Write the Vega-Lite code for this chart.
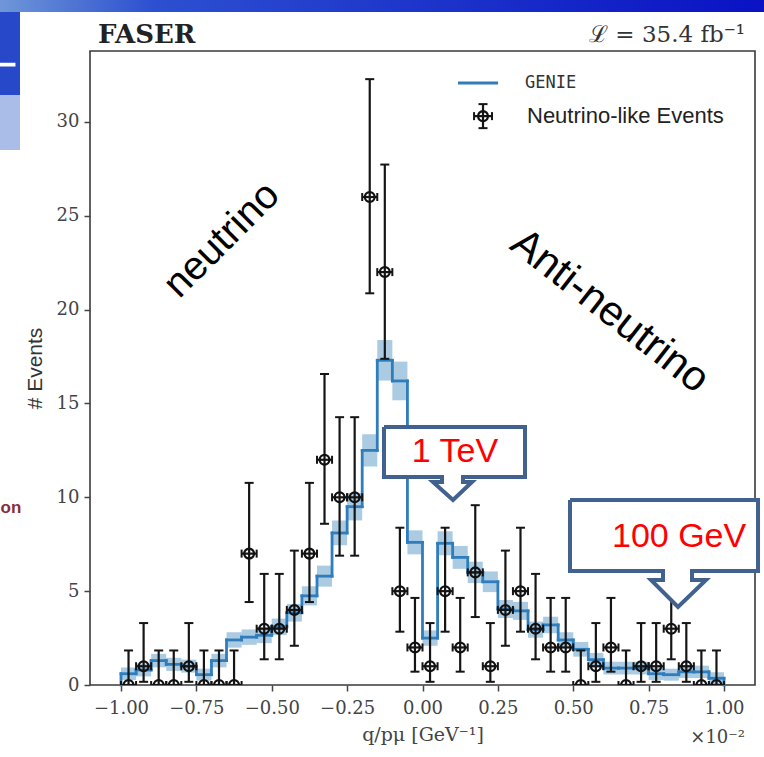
{
  "$schema": "https://vega.github.io/schema/vega-lite/v6.json",
  "width": 665,
  "height": 634,
  "autosize": {"type": "none"},
  "padding": {"left": 90, "top": 51, "right": 9, "bottom": 72},
  "background": "white",
  "config": {
    "view": {"stroke": "#3a3a3a", "strokeWidth": 1.6},
    "axis": {"grid": false, "domain": false, "tickColor": "#444", "tickWidth": 1.5, "tickSize": 6}
  },
  "datasets": {
    "bins": [
      {"c": -0.975, "x0": -1.0, "x1": -0.95, "n": 0, "elo": 0, "ehi": 1.84, "g": 0.6, "glo": 0.27, "ghi": 0.93},
      {"c": -0.925, "x0": -0.95, "x1": -0.9, "n": 1, "elo": 0.17, "ehi": 3.3, "g": 0.8, "glo": 0.46, "ghi": 1.14},
      {"c": -0.875, "x0": -0.9, "x1": -0.85, "n": 0, "elo": 0, "ehi": 1.84, "g": 1.3, "glo": 0.94, "ghi": 1.66},
      {"c": -0.825, "x0": -0.85, "x1": -0.8, "n": 0, "elo": 0, "ehi": 1.84, "g": 1.1, "glo": 0.75, "ghi": 1.45},
      {"c": -0.775, "x0": -0.8, "x1": -0.75, "n": 1, "elo": 0.17, "ehi": 3.3, "g": 1.0, "glo": 0.66, "ghi": 1.35},
      {"c": -0.725, "x0": -0.75, "x1": -0.7, "n": 0, "elo": 0, "ehi": 1.84, "g": 0.55, "glo": 0.23, "ghi": 0.87},
      {"c": -0.675, "x0": -0.7, "x1": -0.65, "n": 0, "elo": 0, "ehi": 1.84, "g": 1.3, "glo": 0.94, "ghi": 1.66},
      {"c": -0.625, "x0": -0.65, "x1": -0.6, "n": 0, "elo": 0, "ehi": 1.84, "g": 2.4, "glo": 1.99, "ghi": 2.81},
      {"c": -0.575, "x0": -0.6, "x1": -0.55, "n": 7, "elo": 4.42, "ehi": 10.77, "g": 2.55, "glo": 2.14, "ghi": 2.96},
      {"c": -0.525, "x0": -0.55, "x1": -0.5, "n": 3, "elo": 1.37, "ehi": 5.92, "g": 2.65, "glo": 2.23, "ghi": 3.07},
      {"c": -0.475, "x0": -0.5, "x1": -0.45, "n": 3, "elo": 1.37, "ehi": 5.92, "g": 3.1, "glo": 2.66, "ghi": 3.54},
      {"c": -0.425, "x0": -0.45, "x1": -0.4, "n": 4, "elo": 2.09, "ehi": 7.16, "g": 3.85, "glo": 3.38, "ghi": 4.32},
      {"c": -0.375, "x0": -0.4, "x1": -0.35, "n": 7, "elo": 4.42, "ehi": 10.77, "g": 4.75, "glo": 4.24, "ghi": 5.26},
      {"c": -0.325, "x0": -0.35, "x1": -0.3, "n": 12, "elo": 8.59, "ehi": 16.57, "g": 5.8, "glo": 5.24, "ghi": 6.36},
      {"c": -0.275, "x0": -0.3, "x1": -0.25, "n": 10, "elo": 6.89, "ehi": 14.27, "g": 8.1, "glo": 7.44, "ghi": 8.76},
      {"c": -0.225, "x0": -0.25, "x1": -0.2, "n": 10, "elo": 6.89, "ehi": 14.27, "g": 9.5, "glo": 8.77, "ghi": 10.23},
      {"c": -0.175, "x0": -0.2, "x1": -0.15, "n": 26, "elo": 20.87, "ehi": 32.28, "g": 12.5, "glo": 11.64, "ghi": 13.36},
      {"c": -0.125, "x0": -0.15, "x1": -0.1, "n": 22, "elo": 17.38, "ehi": 27.73, "g": 17.3, "glo": 16.22, "ghi": 18.38},
      {"c": -0.075, "x0": -0.1, "x1": -0.05, "n": 5, "elo": 2.84, "ehi": 8.38, "g": 16.2, "glo": 15.17, "ghi": 17.23},
      {"c": -0.025, "x0": -0.05, "x1": 0.0, "n": 2, "elo": 0.71, "ehi": 4.64, "g": 7.6, "glo": 6.96, "ghi": 8.24},
      {"c": 0.025, "x0": 0.0, "x1": 0.05, "n": 1, "elo": 0.17, "ehi": 3.3, "g": 2.5, "glo": 2.09, "ghi": 2.91},
      {"c": 0.075, "x0": 0.05, "x1": 0.1, "n": 5, "elo": 2.84, "ehi": 8.38, "g": 7.55, "glo": 6.91, "ghi": 8.19},
      {"c": 0.125, "x0": 0.1, "x1": 0.15, "n": 2, "elo": 0.71, "ehi": 4.64, "g": 6.8, "glo": 6.19, "ghi": 7.41},
      {"c": 0.175, "x0": 0.15, "x1": 0.2, "n": 6, "elo": 3.62, "ehi": 9.58, "g": 6.0, "glo": 5.43, "ghi": 6.57},
      {"c": 0.225, "x0": 0.2, "x1": 0.25, "n": 1, "elo": 0.17, "ehi": 3.3, "g": 5.5, "glo": 4.95, "ghi": 6.05},
      {"c": 0.275, "x0": 0.25, "x1": 0.3, "n": 4, "elo": 2.09, "ehi": 7.16, "g": 4.05, "glo": 3.57, "ghi": 4.53},
      {"c": 0.325, "x0": 0.3, "x1": 0.35, "n": 5, "elo": 2.84, "ehi": 8.38, "g": 3.95, "glo": 3.47, "ghi": 4.43},
      {"c": 0.375, "x0": 0.35, "x1": 0.4, "n": 3, "elo": 1.37, "ehi": 5.92, "g": 2.95, "glo": 2.52, "ghi": 3.38},
      {"c": 0.425, "x0": 0.4, "x1": 0.45, "n": 2, "elo": 0.71, "ehi": 4.64, "g": 3.2, "glo": 2.76, "ghi": 3.64},
      {"c": 0.475, "x0": 0.45, "x1": 0.5, "n": 2, "elo": 0.71, "ehi": 4.64, "g": 2.4, "glo": 1.99, "ghi": 2.81},
      {"c": 0.525, "x0": 0.5, "x1": 0.55, "n": 0, "elo": 0, "ehi": 1.84, "g": 1.9, "glo": 1.51, "ghi": 2.29},
      {"c": 0.575, "x0": 0.55, "x1": 0.6, "n": 1, "elo": 0.17, "ehi": 3.3, "g": 1.35, "glo": 0.99, "ghi": 1.71},
      {"c": 0.625, "x0": 0.6, "x1": 0.65, "n": 2, "elo": 0.71, "ehi": 4.64, "g": 0.9, "glo": 0.56, "ghi": 1.24},
      {"c": 0.675, "x0": 0.65, "x1": 0.7, "n": 0, "elo": 0, "ehi": 1.84, "g": 0.9, "glo": 0.56, "ghi": 1.24},
      {"c": 0.725, "x0": 0.7, "x1": 0.75, "n": 1, "elo": 0.17, "ehi": 3.3, "g": 0.9, "glo": 0.56, "ghi": 1.24},
      {"c": 0.775, "x0": 0.75, "x1": 0.8, "n": 1, "elo": 0.17, "ehi": 3.3, "g": 0.6, "glo": 0.27, "ghi": 0.93},
      {"c": 0.825, "x0": 0.8, "x1": 0.85, "n": 3, "elo": 1.37, "ehi": 5.92, "g": 0.55, "glo": 0.23, "ghi": 0.87},
      {"c": 0.875, "x0": 0.85, "x1": 0.9, "n": 1, "elo": 0.17, "ehi": 3.3, "g": 0.7, "glo": 0.37, "ghi": 1.03},
      {"c": 0.925, "x0": 0.9, "x1": 0.95, "n": 0, "elo": 0, "ehi": 1.84, "g": 0.7, "glo": 0.37, "ghi": 1.03},
      {"c": 0.975, "x0": 0.95, "x1": 1.0, "n": 0, "elo": 0, "ehi": 1.84, "g": 0.36, "glo": 0.04, "ghi": 0.68}
    ],
    "legmark": [
      {"c": 0.2007, "x0": 0.171, "x1": 0.2305, "n": 30.31, "elo": 29.67, "ehi": 30.95}
    ],
    "legline": [
      {"x0": 0.1177, "x1": 0.2507, "y": 32.07}
    ],
    "callouts": [
      {"shape": "tev", "i": 0, "x": -0.1277, "y": 13.745},
      {"shape": "tev", "i": 1, "x": 0.34, "y": 13.745},
      {"shape": "tev", "i": 2, "x": 0.34, "y": 11.082},
      {"shape": "tev", "i": 3, "x": 0.1343, "y": 11.082},
      {"shape": "tev", "i": 4, "x": 0.1343, "y": 10.815},
      {"shape": "tev", "i": 5, "x": 0.1642, "y": 10.815},
      {"shape": "tev", "i": 6, "x": 0.1012, "y": 9.856},
      {"shape": "tev", "i": 7, "x": 0.0348, "y": 10.815},
      {"shape": "tev", "i": 8, "x": 0.0647, "y": 10.815},
      {"shape": "tev", "i": 9, "x": 0.0647, "y": 11.082},
      {"shape": "tev", "i": 10, "x": -0.1277, "y": 11.082},
      {"shape": "tev", "i": 11, "x": -0.1277, "y": 13.745},
      {"shape": "gev", "i": 0, "x": 0.4892, "y": 9.856},
      {"shape": "gev", "i": 1, "x": 1.1128, "y": 9.856},
      {"shape": "gev", "i": 2, "x": 1.1128, "y": 6.074},
      {"shape": "gev", "i": 3, "x": 0.8939, "y": 6.074},
      {"shape": "gev", "i": 4, "x": 0.8939, "y": 5.594},
      {"shape": "gev", "i": 5, "x": 0.9403, "y": 5.594},
      {"shape": "gev", "i": 6, "x": 0.8474, "y": 4.156},
      {"shape": "gev", "i": 7, "x": 0.7579, "y": 5.594},
      {"shape": "gev", "i": 8, "x": 0.7977, "y": 5.594},
      {"shape": "gev", "i": 9, "x": 0.7977, "y": 6.074},
      {"shape": "gev", "i": 10, "x": 0.4892, "y": 6.074},
      {"shape": "gev", "i": 11, "x": 0.4892, "y": 9.856}
    ],
    "deco": [
      {"id": "leftblue", "x0": -1.4013, "x1": -1.335, "y0": 31.43, "y1": 35.86},
      {"id": "leftlight", "x0": -1.4013, "x1": -1.335, "y0": 28.5, "y1": 31.43},
      {"id": "leftwhite", "x0": -1.4013, "x1": -1.35, "y0": 32.95, "y1": 33.15}
    ],
    "band": [
      {"x0": -1.4013, "x1": 1.1327, "y0": 35.86, "y1": 36.6}
    ],
    "notes": [
      {"id": "faser", "text": "FASER", "x": -1.076, "y": 34.63},
      {"id": "lumi", "text": "ℒ = 35.4 fb⁻¹", "x": 1.0697, "y": 34.63},
      {"id": "neutrino", "text": "neutrino", "x": -0.665, "y": 23.71},
      {"id": "anti", "text": "Anti-neutrino", "x": 0.6219, "y": 19.93},
      {"id": "tev", "text": "1 TeV", "x": 0.1078, "y": 12.41},
      {"id": "gev", "text": "100 GeV", "x": 0.851, "y": 7.885},
      {"id": "genie", "text": "GENIE", "x": 0.34, "y": 32.07},
      {"id": "events", "text": "Neutrino-like Events", "x": 0.3466, "y": 30.31},
      {"id": "x10", "text": "×10⁻²", "x": 1.0697, "y": -2.824},
      {"id": "on", "text": "on", "x": -1.3995, "y": 9.43}
    ]
  },
  "layer": [
    {
      "data": {"name": "band"},
      "mark": {"type": "rect", "clip": false, "color": {"gradient": "linear", "x1": 0, "x2": 1, "y1": 0, "y2": 0, "stops": [{"offset": 0, "color": "#6f97d8"}, {"offset": 0.2, "color": "#2c50d0"}, {"offset": 1, "color": "#0a12c4"}]}},
      "encoding": {
        "x": {"field": "x0", "type": "quantitative", "scale": {"domain": [-1.1028, 1.1028], "nice": false, "zero": false},
          "axis": {"values": [-1, -0.75, -0.5, -0.25, 0, 0.25, 0.5, 0.75, 1], "format": ".2f", "title": "q/pμ [GeV⁻¹]",
            "labelFont": "DejaVu Serif", "labelFontSize": 18, "labelColor": "#444", "labelPadding": 8, "labelFlush": false,
            "titleFont": "DejaVu Serif", "titleFontSize": 19, "titleFontWeight": "normal", "titleColor": "#444", "titlePadding": 8}},
        "x2": {"field": "x1"},
        "y": {"field": "y0", "type": "quantitative", "scale": {"domain": [0, 33.78], "nice": false, "zero": false},
          "axis": {"values": [0, 5, 10, 15, 20, 25, 30], "title": "# Events",
            "labelFont": "DejaVu Serif", "labelFontSize": 18, "labelColor": "#444", "labelPadding": 5,
            "titleFont": "Liberation Sans", "titleFontSize": 21, "titleFontWeight": "normal", "titleColor": "#333", "titlePadding": 11}},
        "y2": {"field": "y1"}
      }
    },
    {
      "data": {"name": "deco"},
      "mark": {"type": "rect", "clip": false},
      "encoding": {
        "x": {"field": "x0", "type": "quantitative", "scale": {"domain": [-1.1028, 1.1028], "nice": false, "zero": false}},
        "x2": {"field": "x1"},
        "y": {"field": "y0", "type": "quantitative", "scale": {"domain": [0, 33.78], "nice": false, "zero": false}},
        "y2": {"field": "y1"},
        "color": {"field": "id", "type": "nominal", "scale": {"domain": ["leftblue", "leftlight", "leftwhite"], "range": ["#2748c8", "#a9bde8", "#ffffff"]}, "legend": null}
      }
    },
    {
      "data": {"name": "bins"},
      "layer": [
        {
          "mark": {"type": "rect", "color": "#1f77b4", "opacity": 0.38, "clip": true},
          "encoding": {
            "x": {"field": "x0", "type": "quantitative", "scale": {"domain": [-1.1028, 1.1028], "nice": false, "zero": false}},
            "x2": {"field": "x1"},
            "y": {"field": "glo", "type": "quantitative", "scale": {"domain": [0, 33.78], "nice": false, "zero": false}},
            "y2": {"field": "ghi"}
          }
        },
        {
          "mark": {"type": "rule", "color": "#2f7dbd", "strokeWidth": 2.8, "strokeCap": "square"},
          "encoding": {
            "x": {"field": "x0", "type": "quantitative", "scale": {"domain": [-1.1028, 1.1028], "nice": false, "zero": false}},
            "x2": {"field": "x1"},
            "y": {"field": "g", "type": "quantitative", "scale": {"domain": [0, 33.78], "nice": false, "zero": false}}
          }
        },
        {
          "transform": [
            {"window": [{"op": "lag", "field": "g", "as": "prev"}], "sort": [{"field": "x0", "order": "ascending"}]},
            {"calculate": "datum.prev == null ? 0 : datum.prev", "as": "p"}
          ],
          "mark": {"type": "rule", "color": "#2f7dbd", "strokeWidth": 2.8, "strokeCap": "square"},
          "encoding": {
            "x": {"field": "x0", "type": "quantitative", "scale": {"domain": [-1.1028, 1.1028], "nice": false, "zero": false}},
            "y": {"field": "p", "type": "quantitative", "scale": {"domain": [0, 33.78], "nice": false, "zero": false}},
            "y2": {"field": "g"}
          }
        },
        {
          "transform": [{"filter": "datum.x1 >= 0.999"}],
          "mark": {"type": "rule", "color": "#2f7dbd", "strokeWidth": 2.8, "strokeCap": "square"},
          "encoding": {
            "x": {"field": "x1", "type": "quantitative", "scale": {"domain": [-1.1028, 1.1028], "nice": false, "zero": false}},
            "y": {"field": "g", "type": "quantitative", "scale": {"domain": [0, 33.78], "nice": false, "zero": false}},
            "y2": {"datum": 0}
          }
        }
      ]
    },
    {
      "mark": {"type": "rule", "color": "#111", "strokeWidth": 2, "strokeDash": [6, 3]},
      "encoding": {
        "x": {"datum": 0, "type": "quantitative", "scale": {"domain": [-1.1028, 1.1028], "nice": false, "zero": false}},
        "y": {"datum": 0, "type": "quantitative", "scale": {"domain": [0, 33.78], "nice": false, "zero": false}},
        "y2": {"datum": 30}
      }
    },
    {
      "data": {"name": "bins"},
      "layer": [
        {
          "mark": {"type": "rule", "color": "#151515", "strokeWidth": 2.2, "clip": true},
          "encoding": {
            "x": {"field": "c", "type": "quantitative", "scale": {"domain": [-1.1028, 1.1028], "nice": false, "zero": false}},
            "y": {"field": "elo", "type": "quantitative", "scale": {"domain": [0, 33.78], "nice": false, "zero": false}},
            "y2": {"field": "ehi"}
          }
        },
        {
          "mark": {"type": "rule", "color": "#151515", "strokeWidth": 2.2, "clip": true},
          "encoding": {
            "x": {"field": "x0", "type": "quantitative", "scale": {"domain": [-1.1028, 1.1028], "nice": false, "zero": false}},
            "x2": {"field": "x1"},
            "y": {"field": "n", "type": "quantitative", "scale": {"domain": [0, 33.78], "nice": false, "zero": false}}
          }
        },
        {
          "mark": {"type": "tick", "orient": "horizontal", "color": "#151515", "size": 9, "thickness": 2, "opacity": 1, "clip": true},
          "encoding": {
            "x": {"field": "c", "type": "quantitative", "scale": {"domain": [-1.1028, 1.1028], "nice": false, "zero": false}},
            "y": {"field": "ehi", "type": "quantitative", "scale": {"domain": [0, 33.78], "nice": false, "zero": false}}
          }
        },
        {
          "mark": {"type": "tick", "orient": "horizontal", "color": "#151515", "size": 9, "thickness": 2, "opacity": 1, "clip": true},
          "encoding": {
            "x": {"field": "c", "type": "quantitative", "scale": {"domain": [-1.1028, 1.1028], "nice": false, "zero": false}},
            "y": {"field": "elo", "type": "quantitative", "scale": {"domain": [0, 33.78], "nice": false, "zero": false}}
          }
        },
        {
          "mark": {"type": "tick", "orient": "vertical", "color": "#151515", "size": 8, "thickness": 2, "opacity": 1, "clip": true},
          "encoding": {
            "x": {"field": "x0", "type": "quantitative", "scale": {"domain": [-1.1028, 1.1028], "nice": false, "zero": false}},
            "y": {"field": "n", "type": "quantitative", "scale": {"domain": [0, 33.78], "nice": false, "zero": false}}
          }
        },
        {
          "mark": {"type": "tick", "orient": "vertical", "color": "#151515", "size": 8, "thickness": 2, "opacity": 1, "clip": true},
          "encoding": {
            "x": {"field": "x1", "type": "quantitative", "scale": {"domain": [-1.1028, 1.1028], "nice": false, "zero": false}},
            "y": {"field": "n", "type": "quantitative", "scale": {"domain": [0, 33.78], "nice": false, "zero": false}}
          }
        },
        {
          "mark": {"type": "point", "shape": "circle", "filled": false, "color": "#111", "strokeWidth": 2.3, "size": 95, "opacity": 1, "clip": true},
          "encoding": {
            "x": {"field": "c", "type": "quantitative", "scale": {"domain": [-1.1028, 1.1028], "nice": false, "zero": false}},
            "y": {"field": "n", "type": "quantitative", "scale": {"domain": [0, 33.78], "nice": false, "zero": false}}
          }
        }
      ]
    },
    {
      "data": {"name": "legmark"},
      "layer": [
        {
          "mark": {"type": "rule", "color": "#151515", "strokeWidth": 2.2},
          "encoding": {
            "x": {"field": "c", "type": "quantitative", "scale": {"domain": [-1.1028, 1.1028], "nice": false, "zero": false}},
            "y": {"field": "elo", "type": "quantitative", "scale": {"domain": [0, 33.78], "nice": false, "zero": false}},
            "y2": {"field": "ehi"}
          }
        },
        {
          "mark": {"type": "rule", "color": "#151515", "strokeWidth": 2.2},
          "encoding": {
            "x": {"field": "x0", "type": "quantitative", "scale": {"domain": [-1.1028, 1.1028], "nice": false, "zero": false}},
            "x2": {"field": "x1"},
            "y": {"field": "n", "type": "quantitative", "scale": {"domain": [0, 33.78], "nice": false, "zero": false}}
          }
        },
        {
          "mark": {"type": "tick", "orient": "horizontal", "color": "#151515", "size": 9, "thickness": 2, "opacity": 1},
          "encoding": {
            "x": {"field": "c", "type": "quantitative", "scale": {"domain": [-1.1028, 1.1028], "nice": false, "zero": false}},
            "y": {"field": "ehi", "type": "quantitative", "scale": {"domain": [0, 33.78], "nice": false, "zero": false}}
          }
        },
        {
          "mark": {"type": "tick", "orient": "horizontal", "color": "#151515", "size": 9, "thickness": 2, "opacity": 1},
          "encoding": {
            "x": {"field": "c", "type": "quantitative", "scale": {"domain": [-1.1028, 1.1028], "nice": false, "zero": false}},
            "y": {"field": "elo", "type": "quantitative", "scale": {"domain": [0, 33.78], "nice": false, "zero": false}}
          }
        },
        {
          "mark": {"type": "tick", "orient": "vertical", "color": "#151515", "size": 8, "thickness": 2, "opacity": 1},
          "encoding": {
            "x": {"field": "x0", "type": "quantitative", "scale": {"domain": [-1.1028, 1.1028], "nice": false, "zero": false}},
            "y": {"field": "n", "type": "quantitative", "scale": {"domain": [0, 33.78], "nice": false, "zero": false}}
          }
        },
        {
          "mark": {"type": "tick", "orient": "vertical", "color": "#151515", "size": 8, "thickness": 2, "opacity": 1},
          "encoding": {
            "x": {"field": "x1", "type": "quantitative", "scale": {"domain": [-1.1028, 1.1028], "nice": false, "zero": false}},
            "y": {"field": "n", "type": "quantitative", "scale": {"domain": [0, 33.78], "nice": false, "zero": false}}
          }
        },
        {
          "mark": {"type": "point", "shape": "circle", "filled": false, "color": "#111", "strokeWidth": 2.3, "size": 95, "opacity": 1},
          "encoding": {
            "x": {"field": "c", "type": "quantitative", "scale": {"domain": [-1.1028, 1.1028], "nice": false, "zero": false}},
            "y": {"field": "n", "type": "quantitative", "scale": {"domain": [0, 33.78], "nice": false, "zero": false}}
          }
        }
      ]
    },
    {
      "data": {"name": "legline"},
      "mark": {"type": "rule", "color": "#2f7dbd", "strokeWidth": 3},
      "encoding": {
        "x": {"field": "x0", "type": "quantitative", "scale": {"domain": [-1.1028, 1.1028], "nice": false, "zero": false}},
        "x2": {"field": "x1"},
        "y": {"field": "y", "type": "quantitative", "scale": {"domain": [0, 33.78], "nice": false, "zero": false}}
      }
    },
    {
      "data": {"name": "callouts"},
      "mark": {"type": "line", "fill": "white", "stroke": "#41618f", "strokeWidth": 4, "strokeJoin": "miter", "clip": false, "interpolate": "linear"},
      "encoding": {
        "x": {"field": "x", "type": "quantitative", "scale": {"domain": [-1.1028, 1.1028], "nice": false, "zero": false}},
        "y": {"field": "y", "type": "quantitative", "scale": {"domain": [0, 33.78], "nice": false, "zero": false}},
        "order": {"field": "i", "type": "quantitative"},
        "detail": {"field": "shape", "type": "nominal"}
      }
    },
    {
      "data": {"name": "notes"},
      "layer": [
        {
          "transform": [{"filter": "datum.id == 'faser'"}],
          "mark": {"type": "text", "font": "DejaVu Serif", "fontWeight": "bold", "fontSize": 26, "align": "left", "baseline": "middle", "color": "#222", "clip": false},
          "encoding": {
            "x": {"field": "x", "type": "quantitative", "scale": {"domain": [-1.1028, 1.1028], "nice": false, "zero": false}},
            "y": {"field": "y", "type": "quantitative", "scale": {"domain": [0, 33.78], "nice": false, "zero": false}},
            "text": {"field": "text"}
          }
        },
        {
          "transform": [{"filter": "datum.id == 'lumi'"}],
          "mark": {"type": "text", "font": "DejaVu Serif", "fontSize": 23, "align": "right", "baseline": "middle", "color": "#333", "clip": false},
          "encoding": {
            "x": {"field": "x", "type": "quantitative", "scale": {"domain": [-1.1028, 1.1028], "nice": false, "zero": false}},
            "y": {"field": "y", "type": "quantitative", "scale": {"domain": [0, 33.78], "nice": false, "zero": false}},
            "text": {"field": "text"}
          }
        },
        {
          "transform": [{"filter": "datum.id == 'neutrino'"}],
          "mark": {"type": "text", "font": "Liberation Sans", "fontSize": 40, "angle": -45, "align": "center", "baseline": "middle", "color": "#000", "clip": false},
          "encoding": {
            "x": {"field": "x", "type": "quantitative", "scale": {"domain": [-1.1028, 1.1028], "nice": false, "zero": false}},
            "y": {"field": "y", "type": "quantitative", "scale": {"domain": [0, 33.78], "nice": false, "zero": false}},
            "text": {"field": "text"}
          }
        },
        {
          "transform": [{"filter": "datum.id == 'anti'"}],
          "mark": {"type": "text", "font": "Liberation Sans", "fontSize": 42, "angle": 38, "align": "center", "baseline": "middle", "color": "#000", "clip": false},
          "encoding": {
            "x": {"field": "x", "type": "quantitative", "scale": {"domain": [-1.1028, 1.1028], "nice": false, "zero": false}},
            "y": {"field": "y", "type": "quantitative", "scale": {"domain": [0, 33.78], "nice": false, "zero": false}},
            "text": {"field": "text"}
          }
        },
        {
          "transform": [{"filter": "datum.id == 'tev' || datum.id == 'gev'"}],
          "mark": {"type": "text", "font": "Liberation Sans", "fontSize": 34, "align": "center", "baseline": "middle", "color": "#ff0000", "clip": false},
          "encoding": {
            "x": {"field": "x", "type": "quantitative", "scale": {"domain": [-1.1028, 1.1028], "nice": false, "zero": false}},
            "y": {"field": "y", "type": "quantitative", "scale": {"domain": [0, 33.78], "nice": false, "zero": false}},
            "text": {"field": "text"}
          }
        },
        {
          "transform": [{"filter": "datum.id == 'genie'"}],
          "mark": {"type": "text", "font": "DejaVu Sans Mono", "fontSize": 17, "align": "left", "baseline": "middle", "color": "#333", "clip": false},
          "encoding": {
            "x": {"field": "x", "type": "quantitative", "scale": {"domain": [-1.1028, 1.1028], "nice": false, "zero": false}},
            "y": {"field": "y", "type": "quantitative", "scale": {"domain": [0, 33.78], "nice": false, "zero": false}},
            "text": {"field": "text"}
          }
        },
        {
          "transform": [{"filter": "datum.id == 'events'"}],
          "mark": {"type": "text", "font": "Liberation Sans", "fontSize": 22, "align": "left", "baseline": "middle", "color": "#222", "clip": false},
          "encoding": {
            "x": {"field": "x", "type": "quantitative", "scale": {"domain": [-1.1028, 1.1028], "nice": false, "zero": false}},
            "y": {"field": "y", "type": "quantitative", "scale": {"domain": [0, 33.78], "nice": false, "zero": false}},
            "text": {"field": "text"}
          }
        },
        {
          "transform": [{"filter": "datum.id == 'x10'"}],
          "mark": {"type": "text", "font": "DejaVu Serif", "fontSize": 18, "align": "right", "baseline": "middle", "color": "#444", "clip": false},
          "encoding": {
            "x": {"field": "x", "type": "quantitative", "scale": {"domain": [-1.1028, 1.1028], "nice": false, "zero": false}},
            "y": {"field": "y", "type": "quantitative", "scale": {"domain": [0, 33.78], "nice": false, "zero": false}},
            "text": {"field": "text"}
          }
        },
        {
          "transform": [{"filter": "datum.id == 'on'"}],
          "mark": {"type": "text", "font": "Liberation Sans", "fontWeight": "bold", "fontSize": 17, "align": "left", "baseline": "middle", "color": "#8b2c36", "clip": false},
          "encoding": {
            "x": {"field": "x", "type": "quantitative", "scale": {"domain": [-1.1028, 1.1028], "nice": false, "zero": false}},
            "y": {"field": "y", "type": "quantitative", "scale": {"domain": [0, 33.78], "nice": false, "zero": false}},
            "text": {"field": "text"}
          }
        }
      ]
    }
  ]
}
